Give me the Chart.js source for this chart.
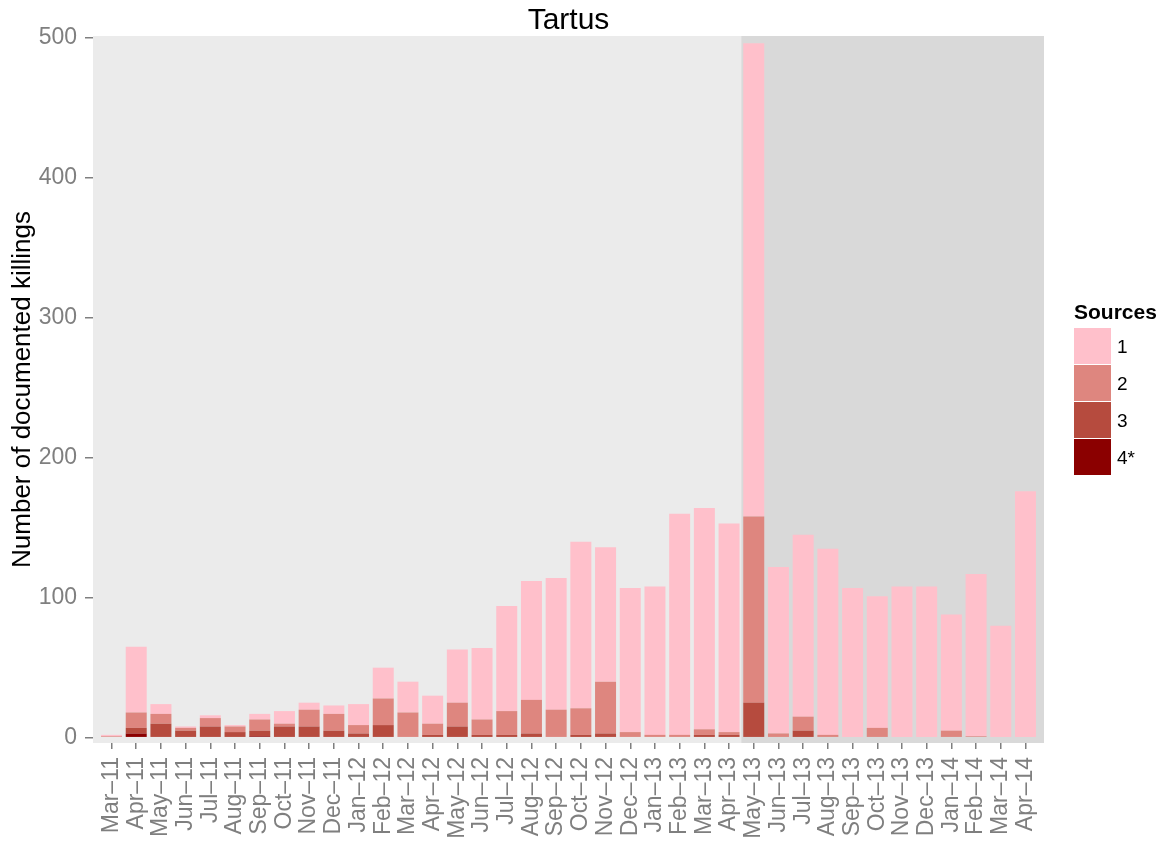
<!DOCTYPE html>
<html>
<head>
<meta charset="utf-8">
<title>Tartus</title>
<script src="https://cdn.jsdelivr.net/npm/chart.js@4/dist/chart.umd.min.js"></script>
<style>
  body { margin: 0; background: #fff; font-family: "Liberation Sans", Arial, sans-serif; }
  #wrap { position: relative; width: 1165px; height: 842px; }
  #legend { position: absolute; left: 1074px; top: 300px; }
  #legend .ttl { font-weight: bold; font-size: 21px; color: #000; height: 28px; line-height: 24px; }
  #legend .row { display: flex; align-items: center; height: 37px; margin-bottom: 0; }
  #legend .box { width: 37px; height: 36px; border-bottom: 1px solid #fff; }
  #legend .lbl { font-size: 19px; color: #000; margin-left: 6px; }
</style>
</head>
<body>
<div id="wrap">
  <canvas id="chart" width="1165" height="842"></canvas>
  <div id="legend"></div>
</div>
<script>
const months = [
  'Mar–11', 'Apr–11', 'May–11', 'Jun–11', 'Jul–11', 'Aug–11', 'Sep–11', 'Oct–11', 'Nov–11', 'Dec–11',
  'Jan–12', 'Feb–12', 'Mar–12', 'Apr–12', 'May–12', 'Jun–12', 'Jul–12', 'Aug–12', 'Sep–12', 'Oct–12', 'Nov–12', 'Dec–12',
  'Jan–13', 'Feb–13', 'Mar–13', 'Apr–13', 'May–13', 'Jun–13', 'Jul–13', 'Aug–13', 'Sep–13', 'Oct–13', 'Nov–13', 'Dec–13',
  'Jan–14', 'Feb–14', 'Mar–14', 'Apr–14'
];

// killings by number of sources
const source1 = [1, 47, 7, 1, 2, 1, 4, 9, 5, 6, 15, 22, 22, 20, 38, 51, 75, 85, 94, 119, 96, 103,
  106, 158, 158, 149, 338, 119, 130, 133, 107, 94, 108, 108, 83, 116, 80, 176];
const source2 = [1, 11, 7, 2, 6, 4, 8, 2, 12, 12, 6, 19, 18, 8, 17, 11, 17, 24, 20, 19, 37, 4,
  2, 2, 4, 2, 133, 3, 10, 2, 0, 7, 0, 0, 5, 1, 0, 0];
const source3 = [0, 4, 10, 5, 8, 4, 4, 8, 8, 5, 3, 9, 0, 2, 8, 2, 2, 3, 0, 2, 3, 0,
  0, 0, 2, 2, 25, 0, 5, 0, 0, 0, 0, 0, 0, 0, 0, 0];
const source4 = [0, 3, 0, 0, 0, 0, 1, 0, 0, 0, 0, 0, 0, 0, 0, 0, 0, 0, 0, 0, 0, 0,
  0, 0, 0, 0, 0, 0, 0, 0, 0, 0, 0, 0, 0, 0, 0, 0];

const sourceLabels = ['1', '2', '3', '4*'];
const sourceColors = ['#FFC0CB', '#DE867F', '#B64B3E', '#8B0000'];
const yTicks = [0, 100, 200, 300, 400, 500];
const shadeFrom = 'May–13';

const toPoints = (arr) => arr.map((v, i) => ({ x: i, y: v }));

const shadePlugin = {
  id: 'shade',
  beforeDraw(chart) {
    const { ctx, chartArea: a, scales: { x } } = chart;
    const i = months.indexOf(shadeFrom);
    const edge = (x.getPixelForValue(i - 1) + x.getPixelForValue(i)) / 2;
    ctx.save();
    ctx.fillStyle = '#EBEBEB';
    ctx.fillRect(a.left, a.top, a.right - a.left, a.bottom - a.top);
    ctx.fillStyle = '#D9D9D9';
    ctx.fillRect(edge, a.top, a.right - edge, a.bottom - a.top);
    ctx.restore();
  }
};

const stack = [source4, source3, source2, source1];
const stackLabels = ['4*', '3', '2', '1'];
const stackColors = [sourceColors[3], sourceColors[2], sourceColors[1], sourceColors[0]];

new Chart(document.getElementById('chart'), {
  type: 'bar',
  data: {
    datasets: stack.map((arr, k) => ({
      label: stackLabels[k],
      data: toPoints(arr),
      backgroundColor: stackColors[k],
      borderWidth: 0,
      categoryPercentage: 1,
      barPercentage: 0.85
    }))
  },
  options: {
    responsive: false,
    animation: false,
    layout: { padding: { left: 0, right: 121, top: 0, bottom: 0 } },
    plugins: {
      legend: { display: false },
      tooltip: { enabled: false },
      title: {
        display: true,
        text: 'Tartus',
        fullSize: false,
        color: '#000',
        font: { family: '"Liberation Sans", Arial, sans-serif', size: 30, weight: 'normal' },
        padding: { top: 3, bottom: -3 }
      }
    },
    scales: {
      x: {
        type: 'linear',
        stacked: true,
        offset: false,
        min: -0.75,
        max: 37.75,
        afterBuildTicks: (scale) => { scale.ticks = months.map((m, i) => ({ value: i })); },
        afterFit: (scale) => { scale.height = 99; },
        border: { display: false },
        grid: { drawOnChartArea: false, drawTicks: true, tickLength: 6, color: '#7F7F7F', lineWidth: 1.5, offset: false },
        ticks: {
          autoSkip: false,
          minRotation: 90,
          maxRotation: 90,
          padding: 8,
          color: '#7F7F7F',
          font: { family: '"Liberation Sans", Arial, sans-serif', size: 23 },
          callback: (v) => months[v]
        }
      },
      y: {
        stacked: true,
        min: -3.8,
        max: 501.2,
        afterBuildTicks: (scale) => { scale.ticks = yTicks.map(v => ({ value: v })); },
        afterFit: (scale) => { scale.width = 93; },
        border: { display: false },
        grid: { drawOnChartArea: false, drawTicks: true, tickLength: 8, color: '#7F7F7F', lineWidth: 1.5 },
        ticks: {
          padding: 8,
          color: '#7F7F7F',
          font: { family: '"Liberation Sans", Arial, sans-serif', size: 23 }
        },
        title: {
          display: true,
          text: 'Number of documented killings',
          color: '#000',
          padding: { top: 7, bottom: 0 },
          font: { family: '"Liberation Sans", Arial, sans-serif', size: 26 }
        }
      }
    }
  },
  plugins: [shadePlugin]
});

// legend, ggplot style
const legend = document.getElementById('legend');
legend.innerHTML = '<div class="ttl">Sources</div>' + sourceLabels.map((s, k) =>
  `<div class="row"><div class="box" style="background:${sourceColors[k]}"></div><div class="lbl">${s}</div></div>`
).join('');
</script>
</body>
</html>
